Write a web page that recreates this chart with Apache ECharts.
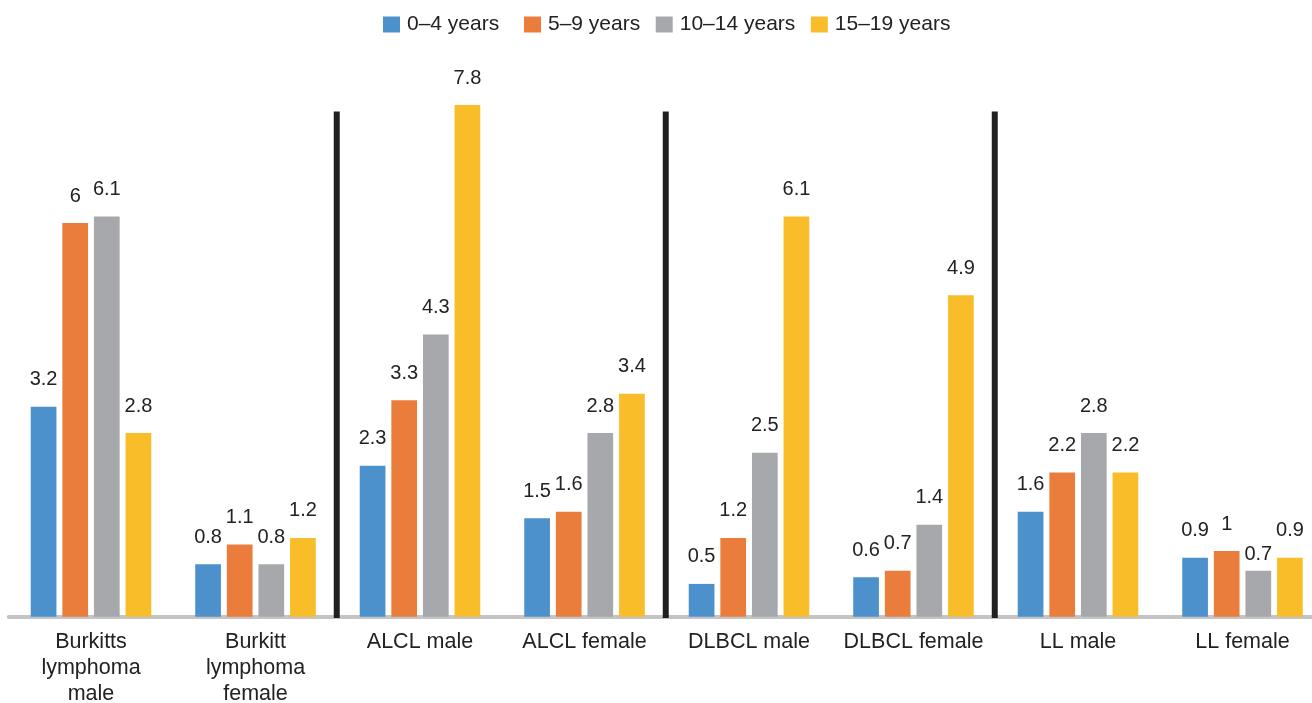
<!DOCTYPE html>
<html>
<head>
<meta charset="utf-8">
<script src="https://cdn.jsdelivr.net/npm/echarts@6/dist/echarts.min.js"></script>
<style>
  html, body { margin: 0; padding: 0; background: #ffffff; overflow: hidden; }
  #chart { width: 1312px; height: 703px; }
</style>
</head>
<body>
<div id="chart"></div>
<script>
// Lymphoma subtypes by sex, incidence per age band
const categories = [
  'Burkitts\nlymphoma\nmale',
  'Burkitt\nlymphoma\nfemale',
  'ALCL male',
  'ALCL female',
  'DLBCL male',
  'DLBCL female',
  'LL male',
  'LL female'
];
const ageGroups = ['0–4 years', '5–9 years', '10–14 years', '15–19 years'];
const age0to4   = [3.2, 0.8, 2.3, 1.5, 0.5, 0.6, 1.6, 0.9];
const age5to9   = [6,   1.1, 3.3, 1.6, 1.2, 0.7, 2.2, 1];
const age10to14 = [6.1, 0.8, 4.3, 2.8, 2.5, 1.4, 2.8, 0.7];
const age15to19 = [2.8, 1.2, 7.8, 3.4, 6.1, 4.9, 2.2, 0.9];
// group boundaries where the subtype separators sit (category index units)
const separators = [2, 4, 6];

const colors = ['#4c91cc', '#eb7d3c', '#a7a8ac', '#f9bd29'];
const seriesValues = [age0to4, age5to9, age10to14, age15to19];
const FONT = "'Liberation Sans', Arial, Helvetica, sans-serif";

const chart = echarts.init(document.getElementById('chart'), null, { renderer: 'canvas' });

const barSeries = ageGroups.map((name, i) => ({
  name: name,
  type: 'bar',
  xAxisIndex: 0,
  yAxisIndex: 0,
  barWidth: 25.7,
  barGap: '23%',
  itemStyle: { color: colors[i] },
  label: {
    show: true,
    position: 'top',
    distance: 17,
    color: '#222222',
    fontFamily: FONT,
    fontSize: 20
  },
  data: seriesValues[i].map((v, j) => {
    // the 10–14 label in the last group sits tight against its bar
    if (i === 2 && j === 7) {
      return { value: v, label: { distance: 6 } };
    }
    return v;
  })
}));

// shared legend look; the first entry stands a little apart from the rest
const legendBase = {
  top: 14,
  padding: 0,
  icon: 'rect',
  itemWidth: 17,
  itemHeight: 16,
  textStyle: { fontFamily: FONT, fontSize: 21, color: '#222222', padding: [0, 0, 0, 2] }
};

const option = {
  animation: false,
  backgroundColor: '#ffffff',
  textStyle: { fontFamily: FONT },
  legend: [
    Object.assign({}, legendBase, { data: ageGroups.slice(0, 1), left: 383 }),
    Object.assign({}, legendBase, { data: ageGroups.slice(1), left: 524, itemGap: 15.5 })
  ],
  grid: {
    left: 8.75,
    width: 1316,
    top: 91.9,
    height: 524.8,
    containLabel: false,
    outerBoundsMode: 'none'
  },
  xAxis: [
    {
      type: 'category',
      data: categories,
      offset: 2,
      axisLine: { show: true, lineStyle: { color: '#c4c4c4', width: 4 } },
      axisTick: { show: false },
      axisLabel: {
        interval: 0,
        margin: 10,
        color: '#222222',
        fontFamily: FONT,
        fontSize: 21.5,
        lineHeight: 26,
        verticalAlign: 'top'
      },
      splitLine: { show: false }
    },
    {
      type: 'value',
      min: 0,
      max: categories.length,
      show: false
    }
  ],
  yAxis: {
    type: 'value',
    min: 0,
    max: 8,
    show: false,
    splitLine: { show: false }
  },
  series: barSeries.concat([
    {
      name: 'separators',
      type: 'custom',
      xAxisIndex: 1,
      yAxisIndex: 0,
      silent: true,
      z: 3,
      renderItem: function (params, api) {
        const bottom = api.coord([api.value(0), -0.02]);
        const top = api.coord([api.value(0), 7.7]);
        return {
          type: 'rect',
          shape: { x: bottom[0] - 4, y: top[1], width: 6, height: bottom[1] - top[1] },
          style: { fill: '#1f1f1f' }
        };
      },
      data: separators.map(s => [s])
    }
  ])
};

chart.setOption(option);
</script>
</body>
</html>
